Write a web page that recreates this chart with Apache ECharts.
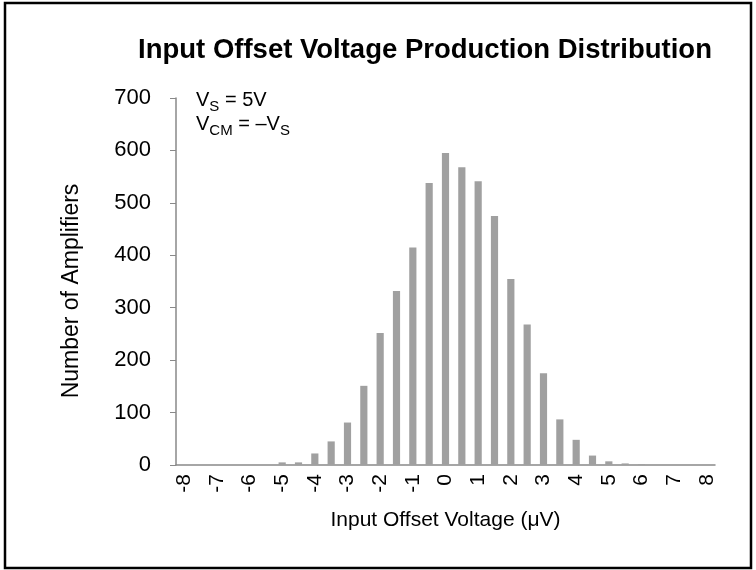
<!doctype html>
<html>
<head>
    <meta charset="UTF-8">
    <title>Input Offset Voltage Production Distribution</title>
    <script src="https://cdn.jsdelivr.net/npm/echarts@6/dist/echarts.min.js"></script>
    <style>
        html, body { margin: 0; padding: 0; background: #fff; }
        #chart { width: 756px; height: 570px; }
    </style>
</head>
<body>
    <div id="chart"></div>
    <script type="text/javascript">
        // 横轴分档 (μV)
        var voltages = ['-8', '-7.5', '-7', '-6.5', '-6', '-5.5', '-5', '-4.5', '-4', '-3.5', '-3', '-2.5',
            '-2', '-1.5', '-1', '-0.5', '0', '0.5', '1', '1.5', '2', '2.5', '3', '3.5',
            '4', '4.5', '5', '5.5', '6', '6.5', '7', '7.5', '8'];
        // 每档的运放数量
        var counts = [0, 0, 0, 0, 0, 0, 5, 5, 22, 45, 81, 151,
            252, 332, 415, 538, 595, 568, 541, 475, 355, 268, 175, 87,
            48, 18, 7, 3, 1, 0, 0, 0, 0];
        var yTicks = [0, 100, 200, 300, 400, 500, 600, 700];

        var myChart = echarts.init(document.getElementById('chart'));
        var axisGray = '#898989';
        var font = 'Liberation Sans, Arial, sans-serif';

        var option = {
            backgroundColor: '#fff',
            animation: false,
            title: {
                text: 'Input Offset Voltage Production Distribution',
                left: 420,
                top: 31,
                textAlign: 'center',
                textStyle: { fontFamily: font, fontSize: 27.5, fontWeight: 'bold', color: '#000' }
            },
            grid: { left: 176, right: 41, top: 98, bottom: 105 },
            xAxis: {
                type: 'category',
                data: voltages,
                name: 'Input Offset Voltage (μV)',
                nameLocation: 'middle',
                nameGap: 45,
                nameTextStyle: { fontFamily: font, fontSize: 21, color: '#000' },
                axisLine: { lineStyle: { color: axisGray, width: 1.5 } },
                axisTick: { interval: 0, length: 6, lineStyle: { color: axisGray } },
                axisLabel: {
                    interval: 1,
                    rotate: 90,
                    margin: 9,
                    fontFamily: font,
                    fontSize: 21,
                    color: '#000'
                }
            },
            yAxis: {
                type: 'value',
                min: yTicks[0],
                max: yTicks[yTicks.length - 1],
                interval: 100,
                axisLine: { show: true, lineStyle: { color: axisGray, width: 1.5 } },
                axisTick: { show: true, length: 6, lineStyle: { color: axisGray } },
                splitLine: { show: false },
                axisLabel: { margin: 25, fontFamily: font, fontSize: 22, color: '#000' }
            },
            series: [{
                type: 'bar',
                data: counts,
                barWidth: '44%',
                itemStyle: { color: '#a0a0a0' }
            }],
            graphic: [
                {
                    type: 'rect',
                    shape: { x: 5, y: 3, width: 746, height: 565 },
                    style: { fill: 'none', stroke: '#000', lineWidth: 2.5 },
                    silent: true
                },
                {
                    // 纵轴标题
                    type: 'text',
                    x: 72,
                    y: 291,
                    rotation: Math.PI / 2,
                    style: {
                        text: 'Number of Amplifiers',
                        fontFamily: font,
                        fontSize: 23,
                        fill: '#000',
                        align: 'center',
                        verticalAlign: 'middle'
                    }
                },
                {
                    type: 'text',
                    left: 196,
                    top: 90,
                    style: {
                        text: '{a|V}{s|S}{a| = 5V}\n{a|V}{s|CM}{a| = \u2013V}{s|S}',
                        fontFamily: font,
                        rich: {
                            a: { fontSize: 20, fontFamily: font, color: '#000', lineHeight: 24, verticalAlign: 'bottom' },
                            s: { fontSize: 15, fontFamily: font, color: '#000', lineHeight: 24, verticalAlign: 'bottom', padding: [0, 0, -4, 0] }
                        }
                    }
                }
            ]
        };
        myChart.setOption(option);
    </script>
</body>
</html>
